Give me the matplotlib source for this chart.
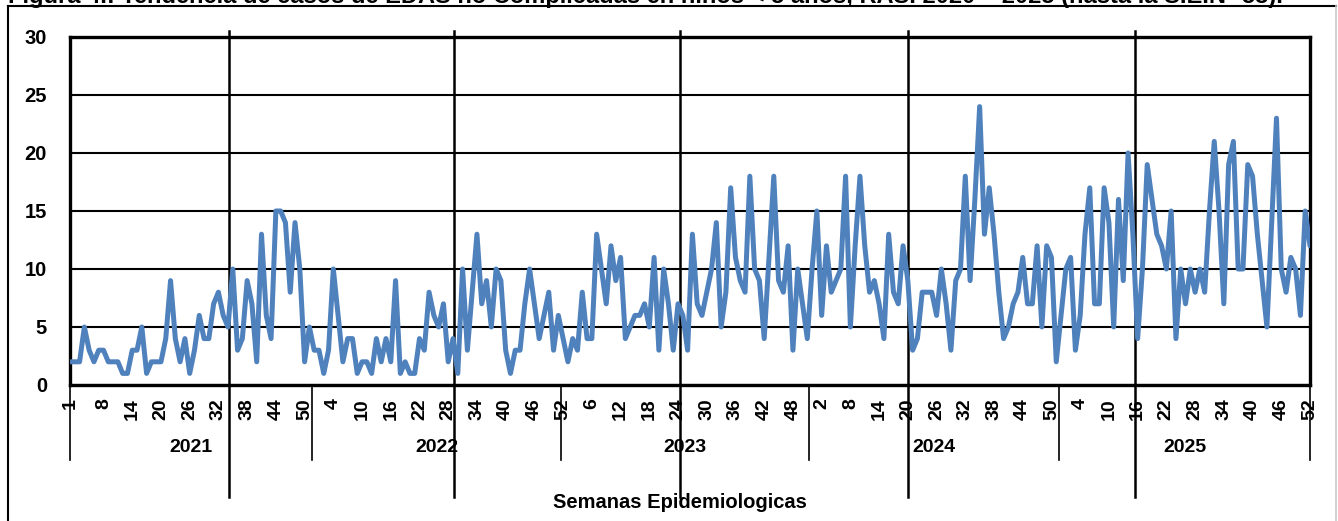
import os
import matplotlib
matplotlib.use("Agg")
import matplotlib.pyplot as plt
from matplotlib import font_manager
from matplotlib.font_manager import FontProperties
from matplotlib.transforms import blended_transform_factory
from matplotlib.lines import Line2D

# ---------------- data ----------------
cases_2021 = [2, 2, 2, 5, 3, 2, 3, 3, 2, 2, 2, 1, 1, 3, 3, 5, 1, 2, 2, 2,
              4, 9, 4, 2, 4, 1, 3, 6, 4, 4, 7, 8, 6, 5, 10, 3, 4, 9, 7, 2,
              13, 6, 4, 15, 15, 14, 8, 14, 10, 2, 5, 3]
cases_2022 = [3, 1, 3, 10, 6, 2, 4, 4, 1, 2, 2, 1, 4, 2, 4, 2, 9, 1, 2, 1,
              1, 4, 3, 8, 6, 5, 7, 2, 4, 1, 10, 3, 8, 13, 7, 9, 5, 10, 9, 3,
              1, 3, 3, 7, 10, 7, 4, 6, 8, 3, 6, 4]
cases_2023 = [2, 4, 3, 8, 4, 4, 13, 10, 7, 12, 9, 11, 4, 5, 6, 6, 7, 5, 11, 3,
              10, 7, 3, 7, 6, 3, 13, 7, 6, 8, 10, 14, 5, 8, 17, 11, 9, 8, 18, 10,
              9, 4, 11, 18, 9, 8, 12, 3, 10, 7, 4, 10]
cases_2024 = [15, 6, 12, 8, 9, 10, 18, 5, 12, 18, 12, 8, 9, 7, 4, 13, 8, 7, 12, 9,
              3, 4, 8, 8, 8, 6, 10, 7, 3, 9, 10, 18, 9, 16, 24, 13, 17, 13, 8, 4,
              5, 7, 8, 11, 7, 7, 12, 5, 12, 11, 2, 6]
cases_2025 = [10, 11, 3, 6, 13, 17, 7, 7, 17, 14, 5, 16, 9, 20, 13, 4, 10, 19, 16, 13,
              12, 10, 15, 4, 10, 7, 10, 8, 10, 8, 15, 21, 15, 7, 19, 21, 10, 10, 19, 18,
              13, 9, 5, 14, 23, 10, 8, 11, 10, 6, 15, 12]

years = ["2021", "2022", "2023", "2024", "2025"]
week_labels = ["1", "8", "14", "20", "26", "32", "38", "44", "50",
               "4", "10", "16", "22", "28", "34", "40", "46", "52",
               "6", "12", "18", "24", "30", "36", "42", "48",
               "2", "8", "14", "20", "26", "32", "38", "44", "50",
               "4", "10", "16", "22", "28", "34", "40", "46", "52"]
y_ticks = [0, 5, 10, 15, 20, 25, 30]
title = ("Figura 4.: Tendencia de casos de EDAS no Complicadas en niños < 5 años, "
         "RAS. 2020 \u2013 2025 (hasta la S.E.N\u00b0 53).")
x_title = "Semanas Epidemiologicas"

values = cases_2021 + cases_2022 + cases_2023 + cases_2024 + cases_2025

# ---------------- fonts ----------------
def find_narrow_bold():
    prefs = ["liberationsansnarrow-bold.ttf", "arialnb.ttf", "arial narrow bold.ttf"]
    files = {os.path.basename(f.fname).lower(): f.fname
             for f in font_manager.fontManager.ttflist}
    for p in prefs:
        if p in files:
            return files[p]
    return None

narrow_path = find_narrow_bold()
if narrow_path:
    def fp(size):
        return FontProperties(fname=narrow_path, size=size)
    lab_size = 14.5
else:
    def fp(size):
        return FontProperties(family="Liberation Sans", weight="bold", size=size)
    lab_size = 14

# ---------------- layout ----------------
W, H = 1338, 521
fig = plt.figure(figsize=(W / 100, H / 100), dpi=100)
fig.patch.set_facecolor("white")
ax = fig.add_axes([70 / W, 1 - 385 / H, 1240 / W, 348 / H])

n = len(values)
xs = list(range(n))
ax.plot(xs, values, color="#4F81BD", lw=3.6, solid_joinstyle="round",
        solid_capstyle="round", zorder=3)
ax.set_xlim(0, n - 1)
ax.set_ylim(0, 30)
ax.set_yticks(y_ticks)
ax.set_yticklabels([str(v) for v in y_ticks])
for t in ax.get_yticklabels():
    t.set_fontproperties(fp(lab_size + 0.5))
ax.tick_params(axis="y", length=0, pad=16.5)
ax.set_xticks([])
ax.yaxis.grid(True, color="black", lw=1.5)
ax.set_axisbelow(True)
for s in ax.spines.values():
    s.set_color("black")
    s.set_linewidth(2.4)

blend = blended_transform_factory(ax.transData, fig.transFigure)

# week tick labels: first point, then every 6 weeks starting at index 7
label_pos = [0] + [7 + 6 * k for k in range(len(week_labels) - 1)]
for p, lab in zip(label_pos, week_labels):
    ax.text(p, 1 - 398 / H, lab, transform=blend, rotation=90, ha="center",
            va="top", fontproperties=fp(lab_size))

# year group separators and labels
seps = [0, 50.6, 102.5, 154.4, 206.6, n - 1]
for s in seps:
    ax.add_line(Line2D([s, s], [1 - 385 / H, 1 - 460 / H], transform=blend,
                       color="black", lw=1.2, clip_on=False))
for i, y in enumerate(years):
    ax.text((seps[i] + seps[i + 1]) / 2, 1 - 447 / H, y, transform=blend,
            ha="center", va="center", fontproperties=fp(lab_size))

# long vertical reference lines
for v in [33.2, 80.2, 127.5, 175.1, 222.5]:
    ax.add_line(Line2D([v, v], [1 - 497 / H, 1 - 31 / H], transform=blend,
                       color="black", lw=1.8, clip_on=False, zorder=2))

fig.text(680 / W, 1 - 503 / H, x_title, ha="center", va="center",
         fontproperties=fp(lab_size + 0.5))

# title (cut off at top, as in the source) and outer frame
fig.text(8 / W, 1 - 3.5 / H, title, ha="left", va="baseline", fontsize=17,
         fontweight="bold", family="Liberation Sans")
fig.add_artist(Line2D([8 / W, 8 / W], [0, 1 - 6 / H], color="black", lw=1.5))
fig.add_artist(Line2D([8 / W, 1336 / W], [1 - 6 / H, 1 - 6 / H], color="black", lw=1.5))
fig.add_artist(Line2D([1336 / W, 1336 / W], [0, 1 - 6 / H], color="#c8c8c8", lw=1.2))

fig.savefig("out.png", dpi=100)
